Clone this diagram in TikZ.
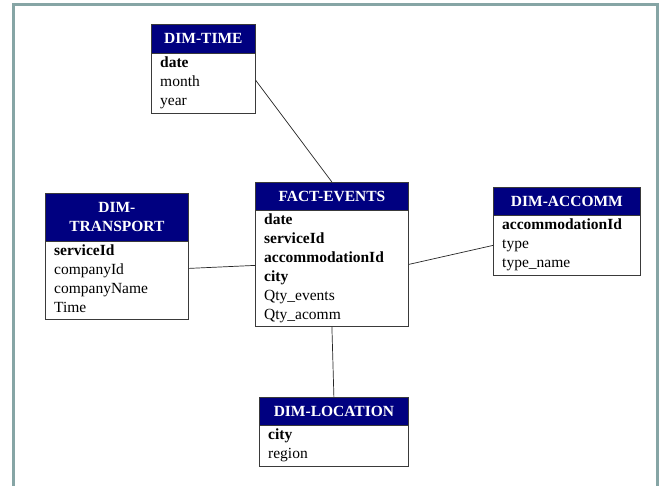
\documentclass[tikz,border=0pt]{standalone}
\usepackage{fontspec}
\setmainfont{Liberation Serif}
\usetikzlibrary{calc}
\definecolor{navy}{HTML}{000080}
\definecolor{boxline}{HTML}{3A3A3A}
\definecolor{framecol}{HTML}{86A5A5}
\newcommand\tabletext{\fontsize{15.5pt}{19pt}\selectfont}
\begin{document}
\begin{tikzpicture}[x=1pt,y=-1pt,
  font=\tabletext,
  hdr/.style={draw=boxline, fill=navy, text=white, font=\tabletext\bfseries,
    anchor=north west, inner sep=0pt, align=center, line width=0.8pt},
  bodybox/.style={draw=boxline, fill=white, anchor=north west,
    inner sep=0pt, line width=0.8pt},
  fld/.style={anchor=west, inner sep=0pt, text height=13.5pt, text depth=2pt,
    font=\tabletext},
  keyfld/.style={fld, font=\tabletext\bfseries},
  link/.style={draw=black!85, line width=0.7pt}]

% canvas and outer frame (open at the bottom)
\useasboundingbox (0,0) rectangle (661,485);
\fill[white] (0,0) rectangle (661,485);
\draw[framecol, line width=2.6pt] (13.3,490) -- (13.3,4.3) -- (657.3,4.3) -- (657.3,490);

% DIM-TIME
\node[bodybox, minimum width=104pt, minimum height=60pt] (timeb) at (151,53) {};
\node[hdr, minimum width=104pt, minimum height=29pt] (timeh) at (151,24) {DIM-TIME};
\node[keyfld] (t1) at (160,62) {date};
\node[fld] (t2) at (160,81) {month};
\node[fld] (t3) at (160,100) {year};

% FACT-EVENTS
\node[bodybox, minimum width=153pt, minimum height=116pt] (factb) at (255,210) {};
\node[hdr, minimum width=153pt, minimum height=28pt] (facth) at (255,182) {FACT-EVENTS};
\node[keyfld] (f1) at (264,219) {date};
\node[keyfld] (f2) at (264,238) {serviceId};
\node[keyfld] (f3) at (264,257) {accommodationId};
\node[keyfld] (f4) at (264,276) {city};
\node[fld] (f5) at (264,295) {Qty\_events};
\node[fld] (f6) at (264,314) {Qty\_acomm};

% DIM-TRANSPORT
\node[bodybox, minimum width=143pt, minimum height=78pt] (transb) at (45,241) {};
\node[hdr, minimum width=143pt, minimum height=48pt] (transh) at (45,193) {DIM-\\TRANSPORT};
\node[keyfld] (r1) at (54,250) {serviceId};
\node[fld] (r2) at (54,269) {companyId};
\node[fld] (r3) at (54,288) {companyName};
\node[fld] (r4) at (54,307) {Time};

% DIM-ACCOMM
\node[bodybox, minimum width=147pt, minimum height=60pt] (accb) at (493,215) {};
\node[hdr, minimum width=147pt, minimum height=28pt] (acch) at (493,187) {DIM-ACCOMM};
\node[keyfld] (a1) at (502,224) {accommodationId};
\node[fld] (a2) at (502,243) {type};
\node[fld] (a3) at (502,262) {type\_name};

% DIM-LOCATION
\node[bodybox, minimum width=149pt, minimum height=41pt] (locb) at (259,425) {};
\node[hdr, minimum width=149pt, minimum height=28pt] (loch) at (259,397) {DIM-LOCATION};
\node[keyfld] (l1) at (268,434) {city};
\node[fld] (l2) at (268,453) {region};

% connectors between the fact table and its dimensions
\draw[link] ($(timeb.east)+(0,-3)$) -- (facth.north);
\draw[link] ($(transb.east)+(0,-12)$) -- ($(factb.west)+(0,-3)$);
\draw[link] ($(factb.east)+(0,-4)$) -- (accb.west);
\draw[link] (factb.south) -- (loch.north);
\end{tikzpicture}
\end{document}
